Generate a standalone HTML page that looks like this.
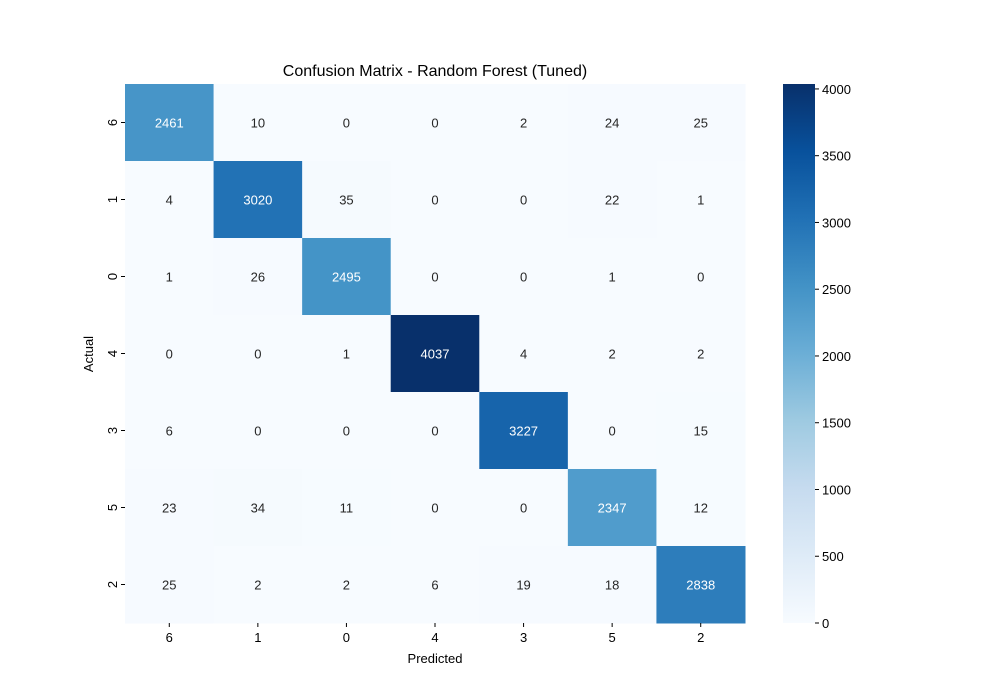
<!DOCTYPE html>
<html><head><meta charset="utf-8"><style>
body{margin:0;background:#fff;}
svg{display:block;font-family:"Liberation Sans","DejaVu Sans",sans-serif;}
</style></head><body>
<svg id="chart" width="1000" height="700">
<defs><linearGradient id="cbg" x1="0" y1="1" x2="0" y2="0">
<stop offset="0" stop-color="rgb(247,251,255)"/><stop offset="0.125" stop-color="rgb(222,235,247)"/>
<stop offset="0.25" stop-color="rgb(198,219,239)"/><stop offset="0.375" stop-color="rgb(158,202,225)"/>
<stop offset="0.5" stop-color="rgb(107,174,214)"/><stop offset="0.625" stop-color="rgb(66,146,198)"/>
<stop offset="0.75" stop-color="rgb(33,113,181)"/><stop offset="0.875" stop-color="rgb(8,81,156)"/>
<stop offset="1" stop-color="rgb(8,48,107)"/></linearGradient></defs>
<text x="435" y="76" text-anchor="middle" font-size="16">Confusion Matrix - Random Forest (Tuned)</text>
<g id="cells"></g>
<text x="435" y="663" text-anchor="middle" font-size="13">Predicted</text>
<text transform="translate(93,354) rotate(-90)" text-anchor="middle" font-size="13">Actual</text>
<rect x="783" y="84" width="32" height="539" fill="url(#cbg)"/>
<g id="cbticks"></g>
</svg>
<script>
const xLabels=["6","1","0","4","3","5","2"];
const yLabels=["6","1","0","4","3","5","2"];
const row0=[2461,10,0,0,2,24,25];
const row1=[4,3020,35,0,0,22,1];
const row2=[1,26,2495,0,0,1,0];
const row3=[0,0,1,4037,4,2,2];
const row4=[6,0,0,0,3227,0,15];
const row5=[23,34,11,0,0,2347,12];
const row6=[25,2,2,6,19,18,2838];
const matrix=[row0,row1,row2,row3,row4,row5,row6];
const cbTicks=[0,500,1000,1500,2000,2500,3000,3500,4000];
const NS="http://www.w3.org/2000/svg";
const X0=125,Y0=84,W=620,H=539;
const vmax=Math.max(...matrix.flat());
const cw=W/xLabels.length,ch=H/yLabels.length;
const stops=[[247,251,255],[222,235,247],[198,219,239],[158,202,225],[107,174,214],[66,146,198],[33,113,181],[8,81,156],[8,48,107]];
function blues(t){t=Math.max(0,Math.min(1,t))*8;const i=Math.min(7,Math.floor(t)),f=t-i;const a=stops[i],b=stops[i+1];
return `rgb(${a.map((v,k)=>Math.round(v+(b[k]-v)*f)).join(",")})`;}
function el(tag,attrs,parent){const e=document.createElementNS(NS,tag);for(const k in attrs)e.setAttribute(k,attrs[k]);parent.appendChild(e);return e;}
const cells=document.getElementById("cells");
matrix.forEach((row,r)=>row.forEach((v,c)=>{
 const x=X0+c*cw,y=Y0+r*ch;
 const rect=el("rect",{x:x,y:y,width:cw+0.5,height:ch+0.5,fill:blues(v/vmax)},cells);
 
 
 const t=el("text",{x:x+cw/2,y:y+ch/2+5,"text-anchor":"middle","font-size":13,fill:v/vmax>0.45?"#fff":"#262626"},cells);
 t.textContent=v;
 
 
}));
xLabels.forEach((l,i)=>{
 const x=X0+(i+0.5)*cw;
 el("line",{x1:x,x2:x,y1:Y0+H,y2:Y0+H+4,stroke:"#000"},cells);
 const t=el("text",{x:x,y:Y0+H+19,"text-anchor":"middle","font-size":13},cells);t.textContent=l;
 
 
});
yLabels.forEach((l,i)=>{
 const y=Y0+(i+0.5)*ch;
 el("line",{x1:X0-4,x2:X0,y1:y,y2:y,stroke:"#000"},cells);
 const t=el("text",{transform:`translate(${X0-8},${y}) rotate(-90)`,"text-anchor":"middle","font-size":13},cells);t.textContent=l;
 
 
});
const cb=document.getElementById("cbticks");
cbTicks.forEach(v=>{
 const y=Y0+H-v/vmax*H;
 el("line",{x1:815,x2:819,y1:y,y2:y,stroke:"#000"},cb);
 const t=el("text",{x:822,y:y+5,"font-size":13},cb);t.textContent=v;
 
 
});
</script>
</body></html>
